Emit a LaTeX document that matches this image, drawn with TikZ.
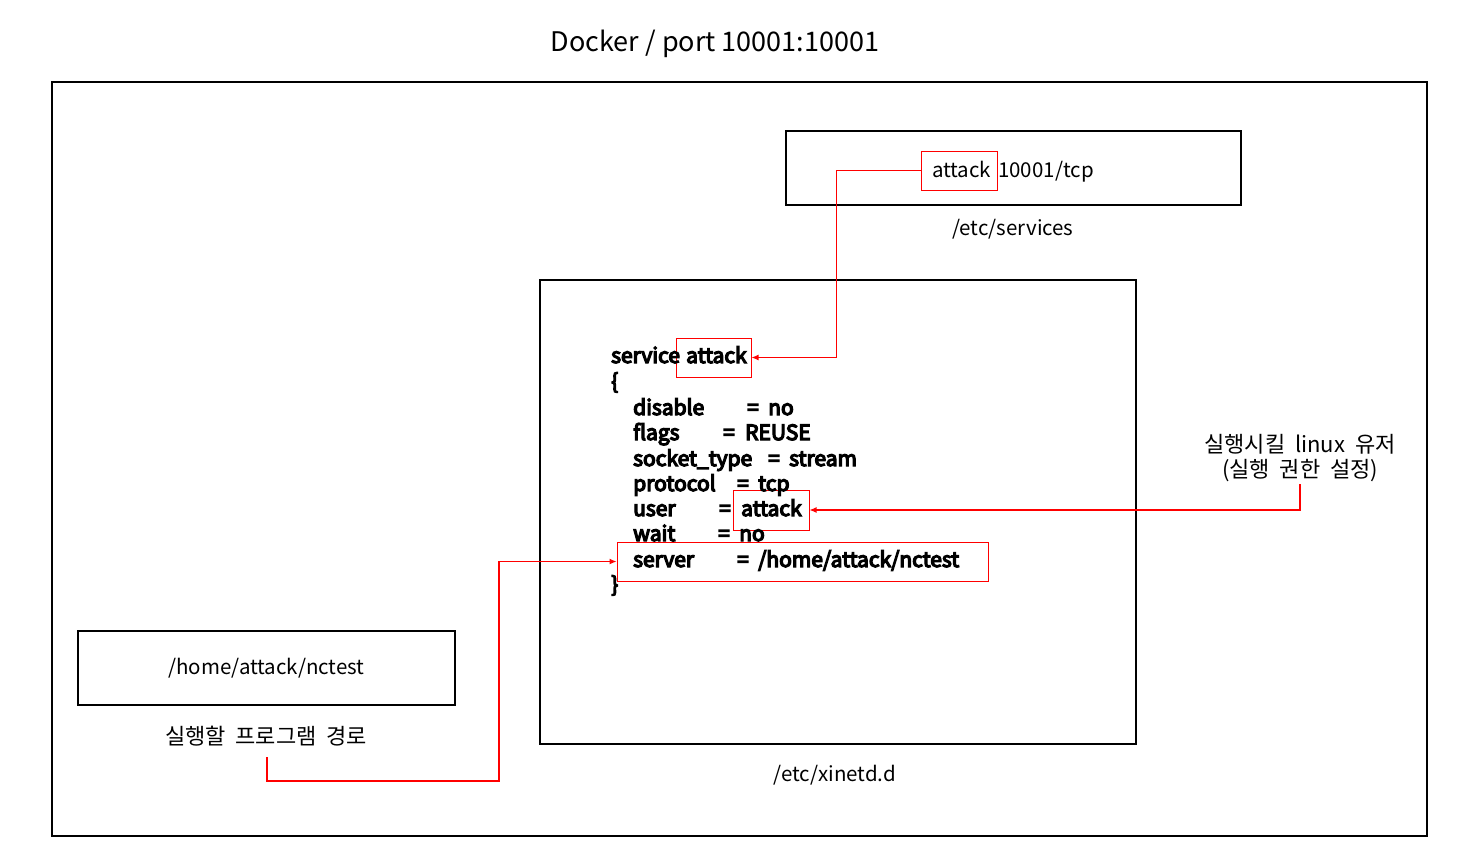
\documentclass[tikz,border=0pt]{standalone}
\usepackage{fontspec}
\setmainfont{Noto Sans CJK KR}
\newfontfamily\codefont{Noto Sans CJK KR}[FakeBold=6]
\newfontfamily\korfont{Noto Sans CJK KR}[WordSpace=2]
\usetikzlibrary{arrows.meta}
\tikzset{
  blackbox/.style={draw=black,line width=2pt,inner sep=0pt},
  redbox/.style={draw=red,line width=1pt,inner sep=0pt},
  txt/.style={inner sep=0pt,anchor=base west,font=\fontsize{20.5}{25}\selectfont},
  code/.style={inner sep=0pt,anchor=base west,font=\codefont\fontsize{21}{26}\selectfont},
  lbl/.style={inner sep=0pt,font=\korfont\fontsize{22}{25}\selectfont,align=center},
  redarrow/.style={draw=red,color=red,line width=1.1pt,-{Latex[length=7pt,width=6pt]}},
}
\begin{document}
\begin{tikzpicture}[x=1pt,y=-1pt]
\useasboundingbox (0,0) rectangle (1483,867);
\node[inner sep=0pt,anchor=base,font=\fontsize{27}{32}\selectfont] (title) at (715,52) {Docker / port 10001:10001};
\draw[line width=2pt] (52,82) rectangle (1427,836);
% /etc/services
\node[blackbox,minimum width=455,minimum height=74] (services) at (1013.5,168) {};
\node[redbox,minimum width=76,minimum height=39] (topattack) at (959,170.5) {};
\node[txt] (topattacktxt) at (932,177) {attack};
\node[txt] (porttxt) at (998,177) {10001/tcp};
\node[inner sep=0pt,anchor=base,font=\fontsize{20.5}{25}\selectfont] (serviceslbl) at (1013,235) {/etc/services};
% xinetd
\node[blackbox,minimum width=596,minimum height=464] (xinetd) at (838,512) {};
\node[inner sep=0pt,anchor=base,font=\fontsize{20.5}{25}\selectfont] (xinetdlbl) at (835,781) {/etc/xinetd.d};
\node[redbox,minimum width=75,minimum height=39] (svcattack) at (713.5,357.5) {};
\node[redbox,minimum width=76,minimum height=40] (userattack) at (771,510) {};
\node[redbox,minimum width=371,minimum height=39] (serverbox) at (802.5,561.5) {};
\node[code] (l1) at (611,363) {service};
\node[code] (l1v) at (686,363) {attack};
\node[code] (l2) at (611,389) {\{};
\node[code] (l3) at (633,415) {disable};
\node[code] (l3v) at (747,415) {=};
\node[code] (l3w) at (768,415) {no};
\node[code] (l4) at (633,440) {flags};
\node[code] (l4v) at (723,440) {=};
\node[code] (l4w) at (745,440) {REUSE};
\node[code] (l5) at (633,466) {socket\_type};
\node[code] (l5v) at (768,466) {=};
\node[code] (l5w) at (789,466) {stream};
\node[code] (l6) at (633,491) {protocol};
\node[code] (l6v) at (737,491) {=};
\node[code] (l6w) at (758,491) {tcp};
\node[code] (l7) at (633,516) {user};
\node[code] (l7v) at (719,516) {=};
\node[code] (l7w) at (741,516) {attack};
\node[code] (l8) at (633,541) {wait};
\node[code] (l8v) at (718,541) {=};
\node[code] (l8w) at (739,541) {no};
\node[code] (l9) at (633,567) {server};
\node[code] (l9v) at (737,567) {=};
\node[code] (l9w) at (758,567) {/home/attack/nctest};
\node[code] (l10) at (611,592) {\}};
% right label
\node[lbl] (userlbl) at (1300,458) {실행시킬 linux 유저\\(실행 권한 설정)};
% nctest
\node[blackbox,minimum width=377,minimum height=74,font=\fontsize{20.5}{25}\selectfont] (nctest) at (266.5,668) {/home/attack/nctest};
\node[lbl] (proglbl) at (266,736) {실행할 프로그램 경로};
% connectors
\coordinate (ustart) at (userlbl.south |- 0,484);
\coordinate (pstart) at (267,757);
\coordinate (pbend) at (499,781);
\draw[redarrow] (ustart) |- (userattack.east);
\draw[redarrow] (topattack.west) -- ++(-84,0) |- (svcattack.east);
\draw[redarrow] (pstart) -- (pstart |- pbend) -- (pbend) -- (pbend |- serverbox.west) -- (serverbox.west);
\end{tikzpicture}
\end{document}
